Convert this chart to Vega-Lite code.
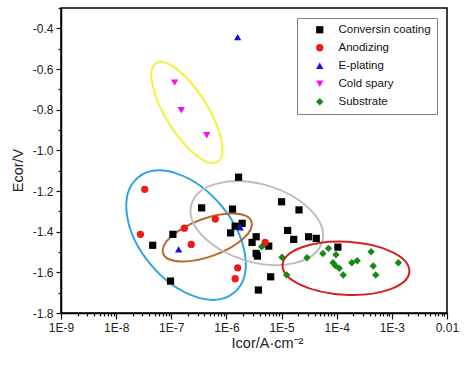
{
  "$schema": "https://vega.github.io/schema/vega-lite/v6.json",
  "width": 386,
  "height": 305,
  "autosize": {"type": "none"},
  "padding": {"left": 61, "top": 8, "right": 26, "bottom": 55},
  "background": "white",
  "config": {
    "font": "Liberation Sans",
    "view": {"stroke": "#000", "strokeWidth": 1.5},
    "axis": {
      "grid": false,
      "ticks": true,
      "domainColor": "#000",
      "domainWidth": 1.5,
      "tickColor": "#111",
      "tickWidth": 1.2,
      "tickOpacity": 1,
      "labelColor": "#222",
      "labelFontSize": 12,
      "labelFont": "Liberation Sans",
      "titleColor": "#222",
      "titleFontSize": 14.5,
      "titleFontWeight": "normal",
      "titleFont": "Liberation Sans",
      "zindex": 1
    }
  },
  "datasets": {
    "points": [
      {"I": 4.6e-8, "E": -1.467, "type": "Conversin coating"},
      {"I": 1.07e-7, "E": -1.413, "type": "Conversin coating"},
      {"I": 9.7e-8, "E": -1.643, "type": "Conversin coating"},
      {"I": 3.55e-7, "E": -1.283, "type": "Conversin coating"},
      {"I": 1.66e-6, "E": -1.132, "type": "Conversin coating"},
      {"I": 1.29e-6, "E": -1.289, "type": "Conversin coating"},
      {"I": 1.93e-6, "E": -1.359, "type": "Conversin coating"},
      {"I": 1.44e-6, "E": -1.373, "type": "Conversin coating"},
      {"I": 1.19e-6, "E": -1.406, "type": "Conversin coating"},
      {"I": 3.46e-6, "E": -1.425, "type": "Conversin coating"},
      {"I": 2.92e-6, "E": -1.453, "type": "Conversin coating"},
      {"I": 5.85e-6, "E": -1.471, "type": "Conversin coating"},
      {"I": 3.46e-6, "E": -1.507, "type": "Conversin coating"},
      {"I": 3.65e-6, "E": -1.52, "type": "Conversin coating"},
      {"I": 6.35e-6, "E": -1.622, "type": "Conversin coating"},
      {"I": 3.8e-6, "E": -1.687, "type": "Conversin coating"},
      {"I": 1.0e-5, "E": -1.253, "type": "Conversin coating"},
      {"I": 2.07e-5, "E": -1.293, "type": "Conversin coating"},
      {"I": 1.29e-5, "E": -1.394, "type": "Conversin coating"},
      {"I": 1.66e-5, "E": -1.438, "type": "Conversin coating"},
      {"I": 3.09e-5, "E": -1.425, "type": "Conversin coating"},
      {"I": 4.26e-5, "E": -1.433, "type": "Conversin coating"},
      {"I": 1.05e-4, "E": -1.476, "type": "Conversin coating"},
      {"I": 3.3e-8, "E": -1.192, "type": "Anodizing"},
      {"I": 2.76e-8, "E": -1.413, "type": "Anodizing"},
      {"I": 1.73e-7, "E": -1.383, "type": "Anodizing"},
      {"I": 2.3e-7, "E": -1.463, "type": "Anodizing"},
      {"I": 6.3e-7, "E": -1.338, "type": "Anodizing"},
      {"I": 1.6e-6, "E": -1.578, "type": "Anodizing"},
      {"I": 1.44e-6, "E": -1.631, "type": "Anodizing"},
      {"I": 5.04e-6, "E": -1.453, "type": "Anodizing"},
      {"I": 1.6e-6, "E": -0.443, "type": "E-plating"},
      {"I": 1.36e-7, "E": -1.487, "type": "E-plating"},
      {"I": 1.78e-6, "E": -1.379, "type": "E-plating"},
      {"I": 1.15e-7, "E": -0.667, "type": "Cold spary"},
      {"I": 1.52e-7, "E": -0.803, "type": "Cold spary"},
      {"I": 4.4e-7, "E": -0.926, "type": "Cold spary"},
      {"I": 4.36e-6, "E": -1.474, "type": "Substrate"},
      {"I": 1.02e-5, "E": -1.526, "type": "Substrate"},
      {"I": 1.24e-5, "E": -1.613, "type": "Substrate"},
      {"I": 2.89e-5, "E": -1.528, "type": "Substrate"},
      {"I": 5.6e-5, "E": -1.507, "type": "Substrate"},
      {"I": 7.1e-5, "E": -1.482, "type": "Substrate"},
      {"I": 9.7e-5, "E": -1.513, "type": "Substrate"},
      {"I": 8.6e-5, "E": -1.553, "type": "Substrate"},
      {"I": 9.4e-5, "E": -1.567, "type": "Substrate"},
      {"I": 1.11e-4, "E": -1.58, "type": "Substrate"},
      {"I": 1.31e-4, "E": -1.613, "type": "Substrate"},
      {"I": 1.88e-4, "E": -1.553, "type": "Substrate"},
      {"I": 2.35e-4, "E": -1.543, "type": "Substrate"},
      {"I": 4.2e-4, "E": -1.499, "type": "Substrate"},
      {"I": 4.6e-4, "E": -1.569, "type": "Substrate"},
      {"I": 5.1e-4, "E": -1.613, "type": "Substrate"},
      {"I": 1.31e-3, "E": -1.553, "type": "Substrate"}
    ],
    "ellipses": [
      {"group": "Cold spary", "I": 1.92e-7, "E": -0.814},
      {"group": "Anodizing", "I": 1.85e-7, "E": -1.417},
      {"group": "E-plating", "I": 4.5e-7, "E": -1.429},
      {"group": "Conversin coating", "I": 3.55e-6, "E": -1.358},
      {"group": "Substrate", "I": 1.47e-4, "E": -1.58}
    ]
  },
  "layer": [
    {
      "data": {"name": "ellipses"},
      "transform": [{"filter": "datum.group === 'Cold spary'"}],
      "mark": {"type": "point", "shape": "M -58 0 A 58 21 0 1 0 58 0 A 58 21 0 1 0 -58 0 Z", "size": 4, "angle": 58, "filled": false, "stroke": "#F2F23A", "strokeWidth": 2, "opacity": 1},
      "encoding": {
        "x": {"field": "I", "type": "quantitative", "scale": {"type": "log", "domain": [1e-9, 0.01]},
          "axis": {"orient": "bottom", "values": [2e-9,3e-9,4e-9,5e-9,6e-9,7e-9,8e-9,9e-9,2e-8,3e-8,4e-8,5e-8,6e-8,7e-8,8e-8,9e-8,2e-7,3e-7,4e-7,5e-7,6e-7,7e-7,8e-7,9e-7,2e-6,3e-6,4e-6,5e-6,6e-6,7e-6,8e-6,9e-6,2e-5,3e-5,4e-5,5e-5,6e-5,7e-5,8e-5,9e-5,2e-4,3e-4,4e-4,5e-4,6e-4,7e-4,8e-4,9e-4,2e-3,3e-3,4e-3,5e-3,6e-3,7e-3,8e-3,9e-3],
            "labels": false, "domain": false, "title": null, "ticks": true, "tickSize": 3, "tickColor": "#111", "grid": false,
            "encode": {"ticks": {"update": {"y2": {"value": -3}}}}}},
        "y": {"field": "E", "type": "quantitative", "scale": {"domain": [-1.8, -0.3], "nice": false, "zero": false},
          "axis": {"orient": "left", "values": [-1.7,-1.5,-1.3,-1.1,-0.9,-0.7,-0.5,-0.3], "labels": false, "domain": false, "title": null, "ticks": true, "tickSize": 3, "tickColor": "#111", "grid": false,
            "encode": {"ticks": {"update": {"x2": {"value": 3}}}}}}
      }
    },
    {
      "data": {"name": "ellipses"},
      "transform": [{"filter": "datum.group === 'Anodizing'"}],
      "mark": {"type": "point", "shape": "M -75 0 A 75 46 0 1 0 75 0 A 75 46 0 1 0 -75 0 Z", "size": 4, "angle": 50, "filled": false, "stroke": "#2BA6DE", "strokeWidth": 2, "opacity": 1},
      "encoding": {
        "x": {"field": "I", "type": "quantitative", "axis": null},
        "y": {"field": "E", "type": "quantitative", "axis": null}
      }
    },
    {
      "data": {"name": "ellipses"},
      "transform": [{"filter": "datum.group === 'E-plating'"}],
      "mark": {"type": "point", "shape": "M -47 0 A 47 19 0 1 0 47 0 A 47 19 0 1 0 -47 0 Z", "size": 4, "angle": -20, "filled": false, "stroke": "#B86B2A", "strokeWidth": 2, "opacity": 1},
      "encoding": {
        "x": {"field": "I", "type": "quantitative", "axis": null},
        "y": {"field": "E", "type": "quantitative", "axis": null}
      }
    },
    {
      "data": {"name": "ellipses"},
      "transform": [{"filter": "datum.group === 'Conversin coating'"}],
      "mark": {"type": "point", "shape": "M -68 0 A 68 39 0 1 0 68 0 A 68 39 0 1 0 -68 0 Z", "size": 4, "angle": 16, "filled": false, "stroke": "#BDBDBD", "strokeWidth": 2, "opacity": 1},
      "encoding": {
        "x": {"field": "I", "type": "quantitative", "axis": null},
        "y": {"field": "E", "type": "quantitative", "axis": null}
      }
    },
    {
      "data": {"name": "ellipses"},
      "transform": [{"filter": "datum.group === 'Substrate'"}],
      "mark": {"type": "point", "shape": "M -63.5 0 A 63.5 26.5 0 1 0 63.5 0 A 63.5 26.5 0 1 0 -63.5 0 Z", "size": 4, "angle": 3, "filled": false, "stroke": "#D22222", "strokeWidth": 2, "opacity": 1},
      "encoding": {
        "x": {"field": "I", "type": "quantitative", "axis": null},
        "y": {"field": "E", "type": "quantitative", "axis": null}
      }
    },
    {
      "data": {"name": "points"},
      "mark": {"type": "point", "filled": true, "opacity": 1},
      "encoding": {
        "x": {"field": "I", "type": "quantitative",
          "axis": {"orient": "bottom", "values": [1e-9,1e-8,1e-7,1e-6,1e-5,1e-4,1e-3,1e-2],
            "labelExpr": "datum.value > 0.005 ? '0.01' : '1E-' + round(-log(datum.value)/LN10)",
            "labelFlush": false, "ticks": true, "tickSize": 6, "tickColor": "#111", "labelPadding": 3,
            "encode": {"ticks": {"update": {"y2": {"value": -6}}}},
            "title": "Icor/A·cm⁻²", "titleX": 206, "titleY": 34, "titleBaseline": "alphabetic", "titleAlign": "center"}},
        "y": {"field": "E", "type": "quantitative",
          "axis": {"orient": "left", "values": [-1.8,-1.6,-1.4,-1.2,-1.0,-0.8,-0.6,-0.4],
            "labelExpr": "replace(format(datum.value, '.1f'), '−', '-')",
            "ticks": true, "tickSize": 5, "tickColor": "#111", "labelPadding": 3,
            "encode": {"ticks": {"update": {"x2": {"value": 5}}}},
            "title": "Ecor/V", "titleX": -39, "titleY": 162, "titleBaseline": "alphabetic", "titleAlign": "center", "titleAngle": -90}},
        "color": {"field": "type", "type": "nominal",
          "scale": {"domain": ["Conversin coating", "Anodizing", "E-plating", "Cold spary", "Substrate"],
            "range": ["#000000", "#F01818", "#1010E8", "#F010F0", "#148A14"]},
          "legend": {"title": null, "orient": "none", "legendX": 236, "legendY": 10, "padding": 6,
            "strokeColor": "#808080", "fillColor": "white",
            "labelFontSize": 11.5, "labelFont": "Liberation Sans", "labelColor": "#111",
            "symbolSize": 55, "symbolOffset": 11, "labelOffset": 13, "rowPadding": 5}},
        "shape": {"field": "type", "type": "nominal",
          "scale": {"domain": ["Conversin coating", "Anodizing", "E-plating", "Cold spary", "Substrate"],
            "range": ["square", "circle", "triangle-up", "triangle-down", "diamond"]}},
        "size": {"field": "type", "type": "nominal",
          "scale": {"domain": ["Conversin coating", "Anodizing", "E-plating", "Cold spary", "Substrate"],
            "range": [52, 55, 62, 62, 75]}, "legend": null}
      }
    }
  ],
  "resolve": {"axis": {"x": "independent", "y": "independent"}}
}
